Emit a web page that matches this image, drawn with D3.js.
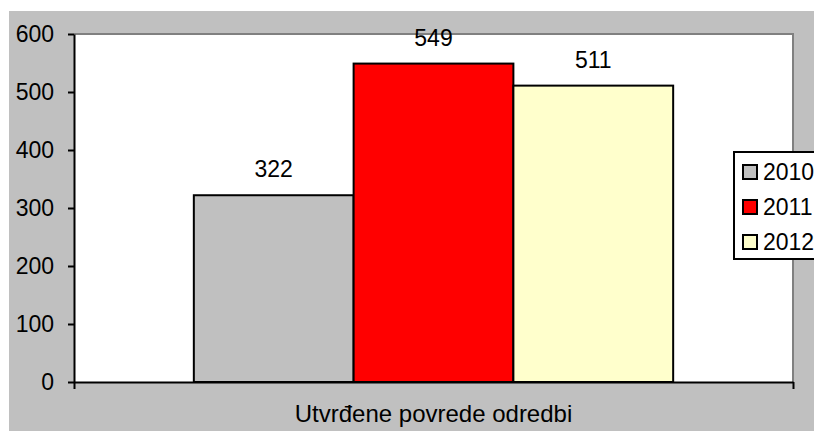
<!DOCTYPE html>
<html>
<head>
<meta charset="utf-8">
<script src="https://cdn.jsdelivr.net/npm/d3@7"></script>
<style>
body{margin:0;background:#fff;}
text{font-family:"Liberation Sans",Arial,sans-serif;fill:#000;}
</style>
</head>
<body>
<div id="chart"></div>
<script>
var w=814;
var h=432;

var categories=["Utvrđene povrede odredbi"];
var series=["2010","2011","2012"];
var values=[322,549,511];
var colors=["#c0c0c0","#ff0000","#ffffcc"];
var yTicks=[0,100,200,300,400,500,600];

var plot={left:74,right:793,top:34,bottom:382};

var svg=d3.select("#chart")
  .append("svg")
  .attr("width",w)
  .attr("height",h);

// chart area background
svg.append("rect")
  .attr("x",9).attr("y",11)
  .attr("width",w-9).attr("height",420)
  .attr("fill","#c0c0c0");

// plot area
svg.append("rect")
  .attr("x",plot.left).attr("y",plot.top)
  .attr("width",plot.right-plot.left).attr("height",plot.bottom-plot.top)
  .attr("fill","#fff");
svg.append("path")
  .attr("d","M"+plot.left+","+plot.top+"H"+plot.right+"V"+plot.bottom)
  .attr("fill","none")
  .attr("stroke","#808080")
  .attr("stroke-width",2);

var x0=d3.scaleBand()
  .domain(categories)
  .range([plot.left,plot.right]);

var x1=d3.scaleBand()
  .domain(series)
  .range([0,x0.bandwidth()])
  .paddingOuter(0.75);

var y=d3.scaleLinear()
  .domain([0,600])
  .range([plot.bottom,plot.top]);

svg.selectAll("rect.bar")
  .data(values)
  .enter()
  .append("rect")
  .attr("class","bar")
  .attr("x",function(d,i){ return x0(categories[0])+x1(series[i]); })
  .attr("y",function(d){ return y(d); })
  .attr("width",x1.bandwidth())
  .attr("height",function(d){ return y(0)-y(d); })
  .attr("fill",function(d,i){ return colors[i]; })
  .attr("stroke","#000")
  .attr("stroke-width",2);

svg.selectAll("text.val")
  .data(values)
  .enter()
  .append("text")
  .attr("class","val")
  .attr("x",function(d,i){ return x0(categories[0])+x1(series[i])+x1.bandwidth()/2; })
  .attr("y",function(d){ return y(d)-18; })
  .attr("text-anchor","middle")
  .style("font-size","23px")
  .text(function(d){ return d; });

// y axis
var yAxis=svg.append("g")
  .attr("transform","translate("+plot.left+",0)")
  .call(d3.axisLeft(y).tickValues(yTicks).tickSize(6).tickPadding(14).tickSizeOuter(0));
yAxis.select(".domain").attr("stroke","#000").attr("stroke-width",2);
yAxis.selectAll(".tick line").attr("stroke","#000").attr("stroke-width",2);
yAxis.selectAll(".tick text").style("font-size","23px").attr("fill","#000");

// x axis
var xb=d3.scaleLinear().domain([0,1]).range([plot.left,plot.right]);
var xAxis=svg.append("g")
  .attr("transform","translate(0,"+plot.bottom+")")
  .call(d3.axisBottom(xb).tickValues([0,1]).tickFormat("").tickSize(7).tickSizeOuter(0));
xAxis.select(".domain").attr("stroke","#000").attr("stroke-width",2);
xAxis.selectAll(".tick line").attr("stroke","#000").attr("stroke-width",2);

svg.selectAll("text.cat")
  .data(categories)
  .enter()
  .append("text")
  .attr("class","cat")
  .attr("x",function(d){ return x0(d)+x0.bandwidth()/2; })
  .attr("y",422)
  .attr("text-anchor","middle")
  .style("font-size","24px")
  .text(function(d){ return d; });

// legend
var legend=svg.append("g").attr("transform","translate(734,152)");
legend.append("rect")
  .attr("x",0).attr("y",0)
  .attr("width",110).attr("height",107)
  .attr("fill","#fff")
  .attr("stroke","#000")
  .attr("stroke-width",2);
var items=legend.selectAll("g.item")
  .data(series)
  .enter()
  .append("g")
  .attr("class","item")
  .attr("transform",function(d,i){ return "translate(9,"+(20+i*35)+")"; });
items.append("rect")
  .attr("x",0).attr("y",-7)
  .attr("width",14).attr("height",14)
  .attr("fill",function(d,i){ return colors[i]; })
  .attr("stroke","#000")
  .attr("stroke-width",2);
items.append("text")
  .attr("x",20).attr("y",8)
  .style("font-size","23px")
  .text(function(d){ return d; });
</script>
</body>
</html>
